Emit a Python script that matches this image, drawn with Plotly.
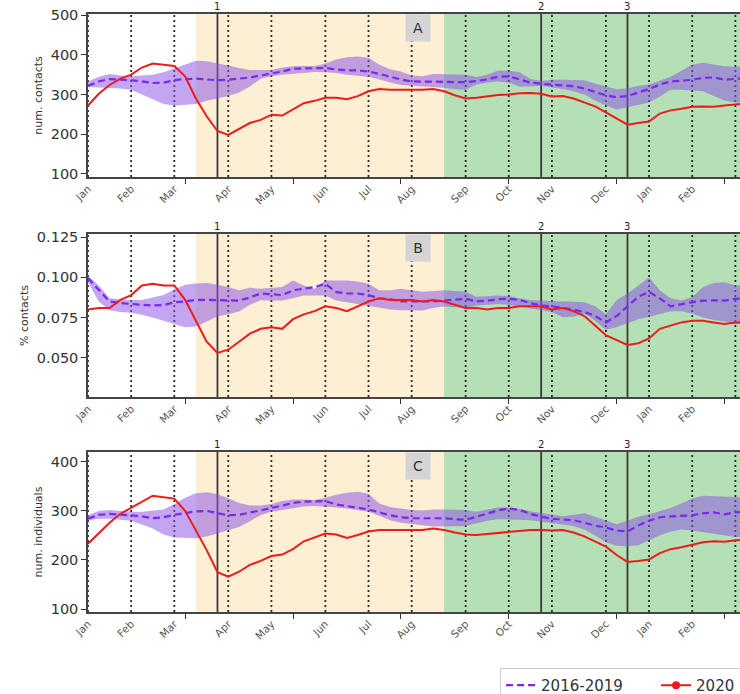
import plotly.graph_objects as go

weeks = list(range(62))

month_labels = ["Jan", "Feb", "Mar", "Apr", "May", "Jun", "Jul", "Aug", "Sep", "Oct", "Nov", "Dec", "Jan", "Feb", "Mar"]
month_weeks = [0, 4, 8, 13, 17, 22, 26, 30, 35, 39, 43, 48, 52, 56, 60]
minor_tick_weeks = [9, 19, 29, 39, 49, 59]
event_weeks = [12, 42, 50]
event_labels = ["1", "2", "3"]
yellow_period = [10, 33]
green_period = [33, 61]
panel_letters = ["A", "B", "C"]

# Panel A: num. contacts
a_2020 = [272, 302, 324, 340, 350, 368, 378, 375, 372, 346,
          290, 245, 208, 198, 214, 228, 236, 249, 247, 262,
          278, 284, 292, 292, 288, 296, 308, 314, 312, 312,
          312, 312, 314, 308, 298, 290, 292, 296, 299, 300,
          303, 304, 302, 295, 296, 290, 280, 270, 255, 240,
          224, 228, 232, 252, 260, 264, 269, 270, 269, 272,
          276, 278]
a_mean = [322, 333, 339, 338, 336, 333, 329, 330, 336, 339,
          340, 338, 336, 337, 340, 343, 348, 353, 358, 365,
          366, 367, 367, 363, 361, 361, 358, 352, 345, 338,
          333, 333, 333, 332, 331, 331, 334, 338, 345, 346,
          338, 330, 327, 325, 323, 321, 315, 306, 298, 293,
          296, 305, 314, 325, 333, 335, 337, 342, 343, 337,
          340, 342]
a_upper = [333, 345, 352, 348, 346, 348, 350, 356, 365, 375,
           385, 384, 379, 373, 367, 362, 362, 362, 368, 371,
           372, 372, 378, 388, 394, 396, 393, 375, 364, 358,
           348, 346, 352, 351, 350, 350, 344, 350, 360, 360,
           356, 340, 334, 337, 337, 337, 336, 328, 320, 313,
           316, 322, 325, 335, 345, 360, 375, 380, 375, 371,
           370, 370]
a_lower = [319, 318, 317, 315, 312, 300, 287, 276, 272, 274,
           276, 284, 290, 296, 305, 320, 340, 346, 350, 352,
           355, 357, 356, 354, 350, 347, 345, 338, 330, 324,
           322, 320, 319, 317, 313, 312, 325, 330, 333, 330,
           320, 320, 322, 318, 314, 308, 300, 285, 272, 262,
           268, 275, 280, 295, 312, 312, 310, 308, 296, 285,
           280, 279]

# Panel B: % contacts
b_2020 = [0.080, 0.081, 0.081, 0.086, 0.089, 0.095, 0.096, 0.095, 0.095, 0.086,
          0.073, 0.060, 0.053, 0.055, 0.060, 0.065, 0.068, 0.069, 0.068, 0.074,
          0.077, 0.079, 0.082, 0.081, 0.079, 0.082, 0.085, 0.087, 0.086, 0.086,
          0.086, 0.085, 0.086, 0.085, 0.083, 0.081, 0.081, 0.080, 0.081, 0.081,
          0.082, 0.082, 0.082, 0.080, 0.081, 0.079, 0.076, 0.070, 0.064, 0.061,
          0.058, 0.059, 0.062, 0.068, 0.070, 0.072, 0.073, 0.073, 0.072, 0.071,
          0.072, 0.072]
b_mean = [0.0996, 0.092, 0.085, 0.084, 0.0835, 0.083, 0.0825, 0.0828, 0.0845, 0.085,
          0.086, 0.086, 0.086, 0.0858, 0.0856, 0.0875, 0.090, 0.0895, 0.089, 0.092,
          0.093, 0.094, 0.096, 0.091, 0.090, 0.090, 0.089, 0.087, 0.0865, 0.085,
          0.085, 0.085, 0.085, 0.0856, 0.086, 0.0867, 0.085, 0.0855, 0.0865, 0.0867,
          0.086, 0.084, 0.0825, 0.082, 0.081, 0.080, 0.0785, 0.076, 0.072, 0.076,
          0.082, 0.088, 0.091, 0.087, 0.082, 0.0835, 0.0846, 0.0855, 0.0858, 0.0856,
          0.0867, 0.087]
b_upper = [0.101, 0.095, 0.087, 0.0862, 0.086, 0.086, 0.0875, 0.089, 0.0925, 0.0955,
           0.0962, 0.0965, 0.0955, 0.094, 0.092, 0.0935, 0.093, 0.0935, 0.094, 0.098,
           0.095, 0.093, 0.098, 0.098, 0.098, 0.0975, 0.096, 0.092, 0.092, 0.093,
           0.092, 0.091, 0.0915, 0.092, 0.0915, 0.0912, 0.088, 0.0885, 0.0888, 0.0885,
           0.087, 0.086, 0.0856, 0.085, 0.085, 0.0848, 0.0846, 0.082, 0.077, 0.086,
           0.090, 0.095, 0.100, 0.092, 0.087, 0.0856, 0.0877, 0.094, 0.0965, 0.097,
           0.095, 0.095]
b_lower = [0.097, 0.085, 0.0795, 0.0785, 0.078, 0.0768, 0.075, 0.0728, 0.071, 0.069,
           0.0695, 0.0725, 0.0756, 0.077, 0.0788, 0.083, 0.0858, 0.0857, 0.0856, 0.087,
           0.0887, 0.0887, 0.0887, 0.0856, 0.0845, 0.0835, 0.0825, 0.081, 0.080, 0.0795,
           0.0794, 0.0794, 0.081, 0.0819, 0.0815, 0.081, 0.0825, 0.083, 0.0835, 0.083,
           0.0819, 0.081, 0.080, 0.0785, 0.0752, 0.0755, 0.0775, 0.073, 0.0675, 0.069,
           0.0715, 0.074, 0.0755, 0.0773, 0.079, 0.079, 0.0775, 0.075, 0.0735, 0.0725,
           0.071, 0.071]

# Panel C: num. individuals
c_2020 = [233, 254, 276, 294, 306, 318, 331, 328, 325, 300,
          261, 220, 175, 166, 176, 190, 198, 208, 211, 222,
          238, 246, 254, 252, 245, 251, 258, 261, 261, 261,
          260, 261, 264, 261, 256, 252, 251, 253, 256, 258,
          260, 261, 261, 260, 261, 256, 248, 238, 227, 210,
          196, 198, 201, 214, 222, 226, 231, 236, 238, 237,
          240, 242]
c_mean = [284, 292, 294, 292, 290, 289, 285, 287, 292, 296,
          299, 300, 295, 291, 292, 296, 301, 306, 311, 316,
          319, 320, 320, 313, 310, 307, 303, 297, 291, 287,
          285, 285, 285, 285, 283, 282, 288, 294, 301, 305,
          302, 294, 288, 284, 283, 281, 276, 270, 266, 260,
          258, 270, 280, 287, 289, 290, 291, 295, 297, 293,
          297, 298]
c_upper = [291, 300, 302, 300, 298, 298, 300, 303, 314, 327,
           336, 338, 334, 326, 316, 311, 311, 314, 320, 323,
           323, 322, 327, 333, 337, 339, 335, 315, 308, 305,
           302, 301, 303, 303, 302, 302, 298, 303, 307, 307,
           304, 299, 296, 292, 289, 292, 295, 288, 280, 273,
           280, 288, 293, 300, 306, 315, 325, 331, 330, 329,
           327, 327]
c_lower = [281, 284, 284, 282, 280, 272, 264, 252, 246, 245,
           244, 248, 254, 260, 267, 279, 291, 298, 302, 306,
           309, 310, 309, 307, 305, 302, 298, 290, 281, 276,
           273, 270, 268, 268, 268, 269, 275, 280, 283, 283,
           282, 281, 278, 275, 272, 269, 262, 250, 236, 229,
           228, 230, 240, 250, 258, 262, 260, 257, 254, 250,
           247, 247]

y_titles = ["num. contacts", "% contacts", "num. individuals"]
y_ranges = [[92, 503], [0.0256, 0.127], [94, 420]]
y_ticks = [[100, 200, 300, 400, 500], [0.050, 0.075, 0.100, 0.125], [100, 200, 300, 400]]
y_formats = ["d", ".3f", "d"]
y_domains = [[0.7450, 0.9798], [0.4280, 0.6628], [0.1182, 0.3487]]

PURPLE = "#7b28f2"
BAND = "rgba(140, 82, 228, 0.52)"
RED = "#ec1c1c"
YELLOW = "#fcefd3"
GREEN = "#b5dfb5"
SPINE = "#444444"
FONT = "DejaVu Sans"

panels = [
    (a_2020, a_mean, a_upper, a_lower),
    (b_2020, b_mean, b_upper, b_lower),
    (c_2020, c_mean, c_upper, c_lower),
]

fig = go.Figure()
shapes = []
annotations = []
x_end = 60.43

for i, (r2020, mean, upper, lower) in enumerate(panels):
    k = "" if i == 0 else str(i + 1)
    xr, yr = "x" + k, "y" + k
    fig.add_trace(go.Scatter(x=weeks, y=lower, mode="lines", line=dict(width=0, color=BAND),
                             xaxis=xr, yaxis=yr, showlegend=False, hoverinfo="skip"))
    fig.add_trace(go.Scatter(x=weeks, y=upper, mode="lines", line=dict(width=0, color=BAND),
                             fill="tonexty", fillcolor=BAND,
                             xaxis=xr, yaxis=yr, showlegend=False, hoverinfo="skip"))
    fig.add_trace(go.Scatter(x=weeks, y=mean, mode="lines", line=dict(color=PURPLE, width=2.2, dash="7px,4px"),
                             xaxis=xr, yaxis=yr, showlegend=False))
    fig.add_trace(go.Scatter(x=weeks, y=r2020, mode="lines", line=dict(color=RED, width=2),
                             xaxis=xr, yaxis=yr, showlegend=False))

    ydom = yr + " domain"
    shapes.append(dict(type="rect", xref=xr, yref=ydom, x0=yellow_period[0], x1=yellow_period[1], y0=0, y1=1,
                       fillcolor=YELLOW, line=dict(width=0), layer="below"))
    shapes.append(dict(type="rect", xref=xr, yref=ydom, x0=green_period[0], x1=green_period[1], y0=0, y1=1,
                       fillcolor=GREEN, line=dict(width=0), layer="below"))
    for mw in month_weeks:
        shapes.append(dict(type="line", xref=xr, yref=ydom, x0=mw, x1=mw, y0=0, y1=1,
                           line=dict(color="#2a2a2a", width=1.8, dash="2px,3px"), layer="below"))
    for ew, el in zip(event_weeks, event_labels):
        shapes.append(dict(type="line", xref=xr, yref=ydom, x0=ew, x1=ew, y0=0, y1=1,
                           line=dict(color="#3a3a3a", width=1.8), layer="below"))
        annotations.append(dict(x=ew, y=1, xref=xr, yref=ydom, text=el, showarrow=False,
                                yanchor="bottom", yshift=0, font=dict(family=FONT, size=10, color="#222")))
    annotations.append(dict(x=30.6, y=1, xref=xr, yref=ydom, text=panel_letters[i], showarrow=False,
                            yanchor="top", xanchor="center", bgcolor="#d4d4d4", width=20, height=22, borderpad=2,
                            font=dict(family=FONT, size=14, color="#333")))

    fig.layout["xaxis" + k] = dict(
        domain=[0, 1], anchor=yr, range=[0, x_end], automargin=False,
        tickmode="array", tickvals=month_weeks, ticktext=month_labels, tickangle=-45,
        ticks="", tickfont=dict(family=FONT, size=10.5, color="#555"),
        showgrid=False, zeroline=False, showline=True, linecolor=SPINE, linewidth=1.5, mirror=True,
        minor=dict(tickmode="array", tickvals=minor_tick_weeks, ticks="outside", ticklen=5,
                   tickwidth=1.2, tickcolor="#333", showgrid=False),
    )
    fig.layout["yaxis" + k] = dict(
        domain=y_domains[i], anchor=xr, range=y_ranges[i], automargin=False,
        tickmode="array", tickvals=y_ticks[i], tickformat=y_formats[i],
        ticks="outside", ticklen=5, tickwidth=1.2, tickcolor="#333",
        tickfont=dict(family=FONT, size=14.5, color="#333"),
        title=dict(text=y_titles[i], font=dict(family=FONT, size=11, color="#333"), standoff=6),
        showgrid=False, zeroline=False, showline=True, linecolor=SPINE, linewidth=1.5, mirror=False,
    )

# legend-only handles
fig.add_trace(go.Scatter(x=[None], y=[None], mode="lines", name="2016-2019",
                         line=dict(color=PURPLE, width=2.2, dash="7px,4px")))
fig.add_trace(go.Scatter(x=[None], y=[None], mode="lines+markers", name="2020",
                         line=dict(color=RED, width=2), marker=dict(color=RED, size=8)))

fig.update_layout(
    width=740, height=694,
    margin=dict(l=88, r=0, t=0, b=0, autoexpand=False),
    paper_bgcolor="white", plot_bgcolor="white",
    shapes=shapes, annotations=annotations,
    showlegend=True,
    legend=dict(orientation="h", x=0.632, y=0.0375, xanchor="left", yanchor="top", traceorder="normal",
                bordercolor="#cccccc", borderwidth=1, bgcolor="white",
                font=dict(family=FONT, size=15, color="#333"), itemwidth=30,
                entrywidth=110, entrywidthmode="pixels"),
    font=dict(family=FONT),
)

fig.write_html("out.html", config={"displayModeBar": False},
               post_script="document.body.style.margin='0px';")
